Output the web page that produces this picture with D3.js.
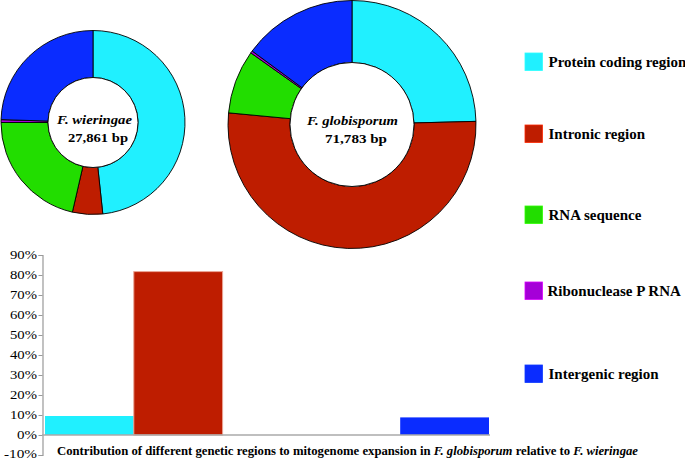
<!DOCTYPE html>
<html><head><meta charset="utf-8">
<script src="https://cdn.jsdelivr.net/npm/d3@7"></script>
<style>body{margin:0;background:#fff}svg{display:block}
svg text{font-family:"Liberation Serif","Times New Roman",Tinos,"DejaVu Serif",serif !important;}</style>
</head><body>
<script>
const categories = ["Protein coding region","Intronic region","RNA sequence","Ribonuclease P RNA","Intergenic region"];
const colors = ["#20F0FF","#BE1D00","#22DD00","#A500D8","#0A2CFF"];
const wieringaeShare = [48.3, 5.3, 21.4, 0.5, 24.5];
const globisporumShare = [24.6, 51.9, 8.3, 0.3, 14.9];
const expansionContribution = [9.5, 81.7, 0, 0, 8.8];
const yTicks = [-10,0,10,20,30,40,50,60,70,80,90];

const W=685,H=459;
const svg = d3.select("body").append("svg").attr("width",W).attr("height",H);

function donut(vals, cx, cy, rO, rI, name){
  const g = svg.append("g").attr("transform",`translate(${cx},${cy})`);
  const pie = d3.pie().sort(null).value(d=>d)(vals);
  const arc = d3.arc().innerRadius(rI).outerRadius(rO);
  g.selectAll("path").data(pie).join("path")
    .attr("d",arc).attr("fill",(d,i)=>colors[i])
    .attr("stroke","#000").attr("stroke-width",0.9);
  g.append("circle").attr("r",rI).attr("fill","#fff").attr("stroke","#000").attr("stroke-width",0.9);
  g.append("text").attr("x",name.dx1).attr("y",name.y1).attr("text-anchor","middle")
    .attr("font-weight","bold").attr("font-style","italic")
    .attr("font-size",13).attr("textLength",name.w1).attr("lengthAdjust","spacingAndGlyphs").text(name.t1);
  g.append("text").attr("x",name.dx2).attr("y",name.y2).attr("text-anchor","middle")
    .attr("font-weight","bold")
    .attr("font-size",13).attr("textLength",name.w2).attr("lengthAdjust","spacingAndGlyphs").text(name.t2);
}
donut(wieringaeShare, 93, 122.5, 92, 45, {t1:"F. wieringae",dx1:1.5,y1:1,w1:75,t2:"27,861 bp",dx2:5,y2:19.5,w2:60});
donut(globisporumShare, 352, 124.5, 124, 62, {t1:"F. globisporum",dx1:0.5,y1:0.5,w1:91,t2:"71,783 bp",dx2:4,y2:18,w2:62});

// Legend
const legY = [53, 125, 206, 282, 365];
const legW = [137, 96, 93, 132, 109];
const lg = svg.append("g");
categories.forEach((c,i)=>{
  lg.append("rect").attr("x",525).attr("y",legY[i]).attr("width",17.5).attr("height",17.5)
    .attr("fill",colors[i]).attr("stroke",d3.color(colors[i]).brighter(0.8)).attr("stroke-width",0.8);
  lg.append("text").attr("x", i===3?547.5:548.5).attr("y",legY[i]+14)
    .attr("font-weight","bold").attr("font-size",15).text(c);
});

// Bar chart
const y = d3.scaleLinear().domain([-10,90]).range([455,255]);
const x = d3.scaleBand().domain(categories).range([45,489]).padding(0);
svg.append("g").selectAll("rect").data(expansionContribution).join("rect")
  .attr("x",(d,i)=>x(categories[i])).attr("width",x.bandwidth())
  .attr("y",d=>y(Math.max(0,d))).attr("height",d=>Math.abs(y(d)-y(0)))
  .attr("fill",(d,i)=>colors[i])
  .attr("stroke",(d,i)=>i===1?"#eaa595":"none").attr("stroke-width",1);

const ax = svg.append("g").attr("transform","translate(42.5,0)")
  .call(d3.axisLeft(y).tickValues(yTicks).tickSize(4).tickFormat(d=>d+"%"));
ax.select(".domain").attr("stroke","#999").attr("stroke-width",1.2);
ax.selectAll(".tick line").attr("stroke","#999");
ax.selectAll(".tick text").attr("font-size",11.5).attr("fill","#000")
  .attr("x",-5.5).attr("dy",d=>d===-10?"0.2em":"0.32em")
  .attr("textLength",(d)=> (d===-10?33:(d===0?20:27))).attr("lengthAdjust","spacingAndGlyphs");

svg.append("line").attr("x1",42).attr("x2",490).attr("y1",y(0)).attr("y2",y(0))
  .attr("stroke","#aaa").attr("stroke-width",1.3);

const cap = svg.append("text").attr("x",57).attr("y",454.5)
  .attr("font-weight","bold").attr("font-size",11.5)
  .attr("textLength",581).attr("lengthAdjust","spacingAndGlyphs");
cap.append("tspan").text("Contribution of different genetic regions to mitogenome expansion in ");
cap.append("tspan").attr("font-style","italic").text("F. globisporum");
cap.append("tspan").text(" relative to ");
cap.append("tspan").attr("font-style","italic").text("F. wieringae");
</script>
</body></html>
